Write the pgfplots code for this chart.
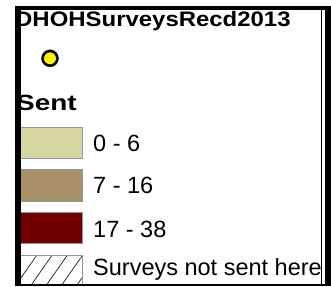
\documentclass[border=0pt]{standalone}
\usepackage{fontspec}
\setmainfont{Liberation Sans}
\usepackage{graphicx}
\usepackage{pgfplots}
\pgfplotsset{compat=1.18}
\usetikzlibrary{patterns.meta}
\definecolor{c1}{RGB}{214,214,160}
\definecolor{c2}{RGB}{168,144,104}
\definecolor{c3}{RGB}{112,0,0}
\definecolor{sw}{RGB}{150,150,150}
\begin{document}
\begin{tikzpicture}
\path[use as bounding box, clip] (0,0) rectangle (331pt,286pt);
\begin{axis}[at={(0,0)}, anchor=south west, scale only axis, width=331pt, height=286pt,
  xmin=0, xmax=331, ymin=0, ymax=286, y dir=reverse, hide axis, clip=false]
% background
\addplot[draw=none, fill=white] coordinates {(0,0) (331,0) (331,286) (0,286)} -- cycle;
% swatches
\addplot[draw=sw, fill=c1, line width=0.8pt] coordinates {(19,127) (82,127) (82,158) (19,158)} -- cycle;
\addplot[draw=sw, fill=c2, line width=0.8pt] coordinates {(19,169.5) (82,169.5) (82,201) (19,201)} -- cycle;
\addplot[draw=sw, fill=c3, line width=0.8pt] coordinates {(19,212) (82,212) (82,243) (19,243)} -- cycle;
\addplot[draw=sw, line width=0.8pt, pattern={Lines[angle=55,distance=12.5pt,line width=0.6pt]}] coordinates {(19,255) (82,255) (82,284) (19,284)} -- cycle;
% point symbol
\addplot[only marks, mark=*, mark size=8.5pt, mark options={fill=black, draw=none}] coordinates {(50,58.3)};
\addplot[only marks, mark=*, mark size=6.3pt, mark options={fill=yellow, draw=none}] coordinates {(50,58.3)};
% texts
\node[anchor=base west, inner sep=0pt, font=\fontsize{21}{25}\selectfont\bfseries] at (axis cs:15,27) {\scalebox{1.14}[1]{DHOHSurveysRecd2013}};
\node[anchor=base west, inner sep=0pt, font=\fontsize{22}{26}\selectfont\bfseries] at (axis cs:16,110) {\scalebox{1.27}[1]{Sent}};
\node[anchor=base west, inner sep=0pt, font=\fontsize{23.5}{27}\selectfont] at (axis cs:93,151.5) {0 - 6};
\node[anchor=base west, inner sep=0pt, font=\fontsize{23.5}{27}\selectfont] at (axis cs:93,193.5) {7 - 16};
\node[anchor=base west, inner sep=0pt, font=\fontsize{23.5}{27}\selectfont] at (axis cs:93,237) {17 - 38};
\node[anchor=base west, inner sep=0pt, font=\fontsize{23.5}{27}\selectfont] at (axis cs:93,275) {Surveys not sent here};
% covers outside the frame
\addplot[draw=none, fill=white] coordinates {(0,0) (15,0) (15,286) (0,286)} -- cycle;
\addplot[draw=none, fill=white] coordinates {(321,0) (331,0) (331,286) (321,286)} -- cycle;
\addplot[draw=none, fill=white] coordinates {(0,0) (331,0) (331,6) (0,6)} -- cycle;
% frame (filled bars)
\addplot[draw=none, fill=black] coordinates {(15,6) (20.5,6) (20.5,286) (15,286)} -- cycle;
\addplot[draw=none, fill=black] coordinates {(15,6) (331,6) (331,10.5) (15,10.5)} -- cycle;
\addplot[draw=none, fill=black] coordinates {(320.5,6) (321.5,6) (321.5,286) (320.5,286)} -- cycle;
\addplot[draw=none, fill=black] coordinates {(324.5,6) (331,6) (331,286) (324.5,286)} -- cycle;
\addplot[draw=none, fill=black] coordinates {(15,284) (331,284) (331,286) (15,286)} -- cycle;
\end{axis}
\end{tikzpicture}
\end{document}
